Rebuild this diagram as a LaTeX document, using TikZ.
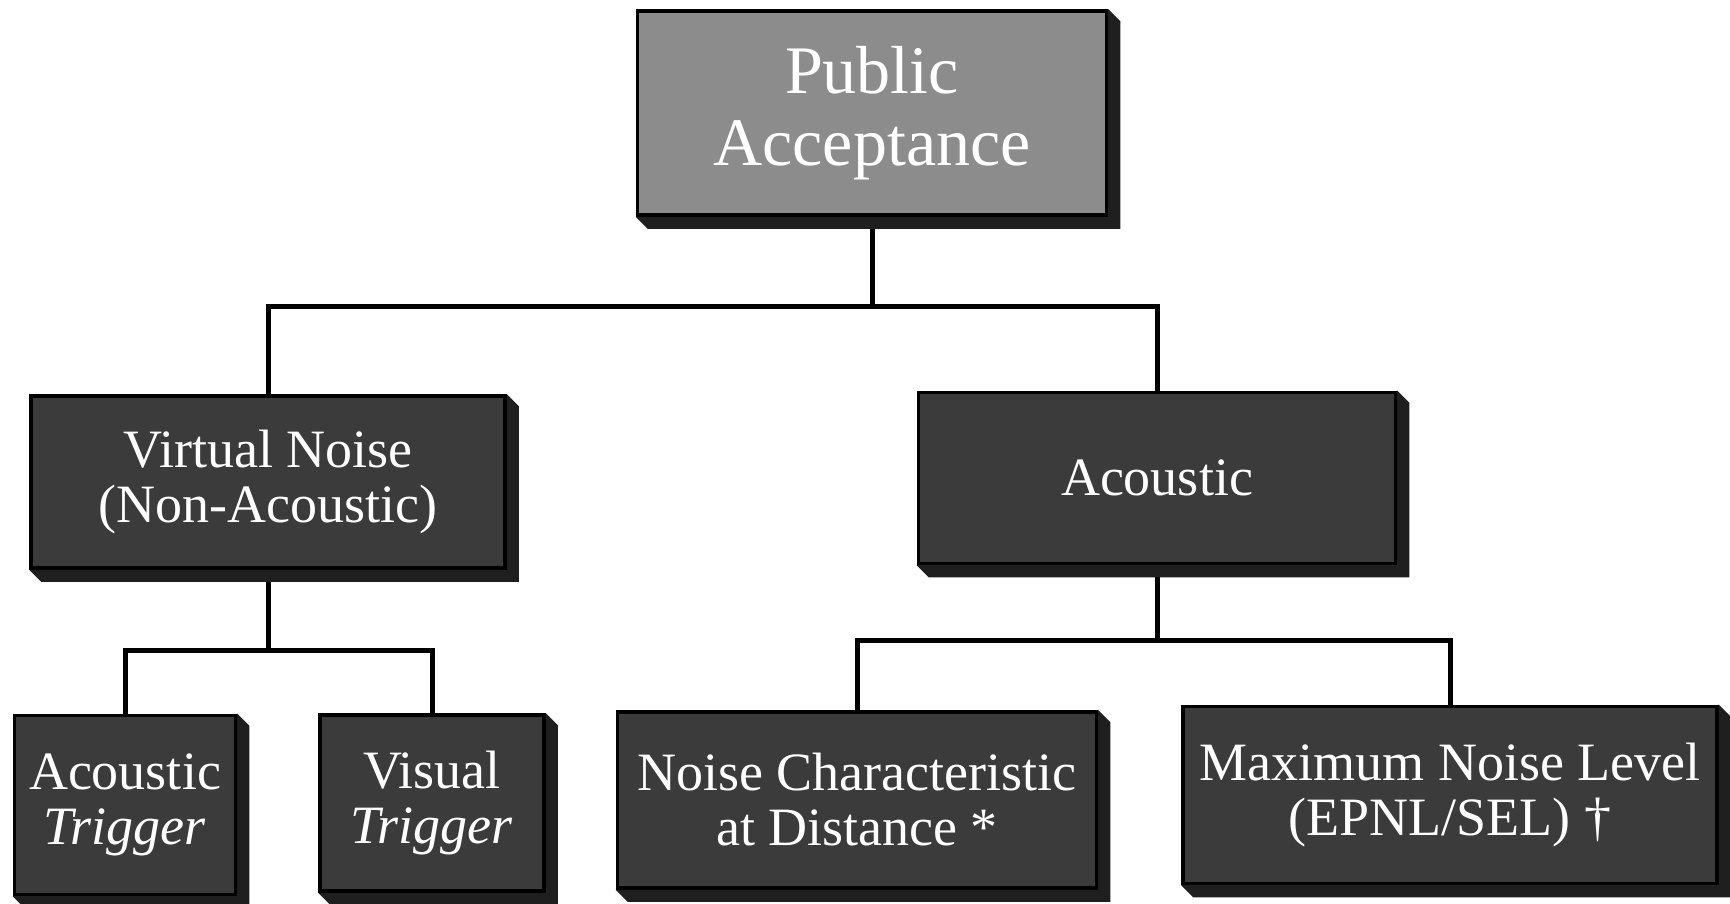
\documentclass[tikz,border=0pt]{standalone}
\usepackage{fontspec}
\setmainfont{Liberation Serif}
\usetikzlibrary{calc,positioning,backgrounds}

\definecolor{lightface}{gray}{0.55}
\definecolor{darkface}{gray}{0.23}
\definecolor{sideface}{gray}{0.12}

\tikzset{
	box/.style={draw=black,line width=1.8pt,fill=darkface,text=white,align=center,inner sep=0pt,font=\fontsize{27}{27.5}\selectfont},
	topbox/.style={box,fill=lightface,font=\fontsize{34}{36}\selectfont},
	link/.style={line width=2.5pt},
}
% extruded edge at the lower right of a box
\newcommand{\extrude}[1]{%
	\fill[sideface] (#1.north east) -- ++(12,12) -- ($(#1.south east)+(12,12)$) -- ($(#1.south west)+(12,12)$) -- (#1.south west) -- cycle;}

\begin{document}
\begin{tikzpicture}[x=0.5pt,y=-0.5pt]
		\useasboundingbox (0,0) rectangle (1730,904);

		\node[topbox,minimum width=234.5pt,minimum height=102pt] (pub) at (872,113) {Public\\Acceptance};

		\node[box,minimum width=237pt,minimum height=86pt] (virt) at (268,482) {Virtual Noise\\(Non-Acoustic)};
		\node[box,minimum width=238.5pt,minimum height=85.5pt] (acou) at (1157,478) {Acoustic};

		\node[box,minimum width=110.5pt,minimum height=89.5pt] (atrig) at (125,805) {Acoustic\\\textit{Trigger}};
		\node[box,minimum width=112pt,minimum height=88pt] (vtrig) at (432,803) {Visual\\\textit{Trigger}};
		\node[box,minimum width=239.5pt,minimum height=88pt] (ncd) at (857,800) {Noise Characteristic\\at Distance *};
		\node[box,minimum width=267pt,minimum height=88.5pt] (mnl) at (1450,795) {Maximum Noise Level\\(EPNL/SEL) \textdagger};

		\begin{scope}[on background layer]
			\draw[link] (pub.south) -- ++(0,90) coordinate (split1);
			\draw[link] (virt.north) |- (split1) -| (acou.north);
			\draw[link] (virt.south) -- ++(0,81) coordinate (split2);
			\draw[link] (atrig.north) |- (split2) -| (vtrig.north);
			\draw[link] (acou.south) -- ++(0,75) coordinate (split3);
			\draw[link] (ncd.north) |- (split3) -| (mnl.north);

			\foreach \b in {pub,virt,acou,atrig,vtrig,ncd,mnl} {
				\extrude{\b}
			}
		\end{scope}
	\end{tikzpicture}
\end{document}
